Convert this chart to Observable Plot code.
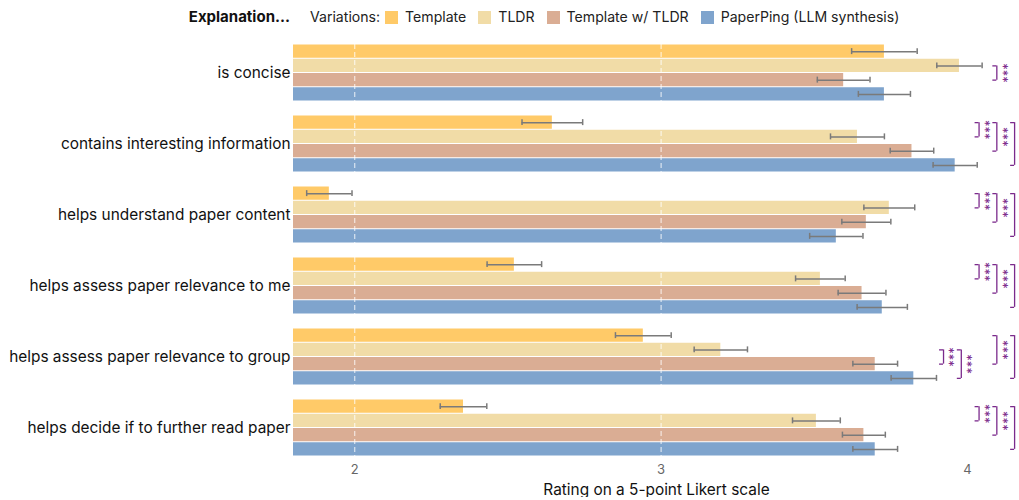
<!DOCTYPE html>
<html>
<head>
<meta charset="utf-8">
<script src="https://cdn.jsdelivr.net/npm/d3@7"></script>
<script src="https://cdn.jsdelivr.net/npm/@observablehq/plot@0.6"></script>
<style>
  html, body { margin: 0; padding: 0; background: #fff; overflow: hidden; }
  body { width: 1019px; height: 500px; font-family: Inter, "Noto Sans", sans-serif; color: #111; }
  #header { position: relative; height: 40px; }
  #title { position: absolute; left: 0; width: 290px; top: 8px; text-align: right; font-weight: 700; font-size: 15px; line-height: 18px; color: #111; }
  #legend { position: absolute; left: 310px; top: 8px; display: flex; align-items: center; font-size: 14.1px; line-height: 18px; color: #222; }
  #legend .lab { margin-right: 5px; }
  #legend .item { display: flex; align-items: center; margin-right: 12px; }
  #legend .sw { width: 13px; height: 13px; margin-right: 7px; }
  #chart { line-height: 0; }
  #chart svg { display: block; }
  #chart svg text { font-family: Inter, "Noto Sans", sans-serif; }
  g[aria-label="x-axis tick label"] text, g[aria-label="x-axis"] .tick text { fill: #666; font-size: 13px; }
</style>
</head>
<body>
<div id="header"><div id="title"></div><div id="legend"></div></div>
<div id="chart"></div>
<script>
// ---- data ----
const categories = [
  "is concise",
  "contains interesting information",
  "helps understand paper content",
  "helps assess paper relevance to me",
  "helps assess paper relevance to group",
  "helps decide if to further read paper"
];
const variations = ["Template", "TLDR", "Template w/ TLDR", "PaperPing (LLM synthesis)"];
const colors = ["#ffca68", "#f1dca7", "#daad94", "#7fa4cd"];

const meanTemplate     = [3.729, 2.645, 1.917, 2.521, 2.942, 2.355];
const meanTLDR         = [3.974, 3.641, 3.745, 3.520, 3.195, 3.507];
const meanTemplateTLDR = [3.596, 3.819, 3.670, 3.656, 3.699, 3.662];
const meanPaperPing    = [3.729, 3.960, 3.572, 3.722, 3.825, 3.699];

const ciTemplate     = [0.107, 0.099, 0.074, 0.089, 0.091, 0.076];
const ciTLDR         = [0.074, 0.088, 0.083, 0.081, 0.087, 0.078];
const ciTemplateTLDR = [0.086, 0.071, 0.080, 0.078, 0.073, 0.070];
const ciPaperPing    = [0.085, 0.072, 0.087, 0.082, 0.074, 0.073];

// significance comparisons
const sigCategory = [
  "is concise",
  "contains interesting information", "contains interesting information", "contains interesting information",
  "helps understand paper content", "helps understand paper content", "helps understand paper content",
  "helps assess paper relevance to me", "helps assess paper relevance to me", "helps assess paper relevance to me",
  "helps assess paper relevance to group", "helps assess paper relevance to group", "helps assess paper relevance to group", "helps assess paper relevance to group",
  "helps decide if to further read paper", "helps decide if to further read paper", "helps decide if to further read paper"
];
const sigFrom = [
  "TLDR",
  "Template", "Template", "Template",
  "Template", "Template", "Template",
  "Template", "Template", "Template",
  "TLDR", "TLDR", "Template", "Template",
  "Template", "Template", "Template"
];
const sigTo = [
  "Template w/ TLDR",
  "TLDR", "Template w/ TLDR", "PaperPing (LLM synthesis)",
  "TLDR", "Template w/ TLDR", "PaperPing (LLM synthesis)",
  "TLDR", "Template w/ TLDR", "PaperPing (LLM synthesis)",
  "Template w/ TLDR", "PaperPing (LLM synthesis)", "Template w/ TLDR", "PaperPing (LLM synthesis)",
  "TLDR", "Template w/ TLDR", "PaperPing (LLM synthesis)"
];
const sigLevel = [1, 0, 1, 2, 0, 1, 2, 0, 1, 2, -2, -1, 1, 2, 0, 1, 2];
const sigLabel = sigLevel.map(() => "***");

const xTicks = [2, 3, 4];
const xLabel = "Rating on a 5-point Likert scale";
const titleText = "Explanation...";
const legendLabel = "Variations:";

// ---- layout constants ----
const xDomain = [1.8, 4.17];
const bracketBase = 4.038, bracketStep = 0.058, bracketTick = 0.013;
const purple = "#7b2a8c";

// ---- build tables ----
const meanSeries = [meanTemplate, meanTLDR, meanTemplateTLDR, meanPaperPing];
const ciSeries = [ciTemplate, ciTLDR, ciTemplateTLDR, ciPaperPing];
const rows = [];
categories.forEach((cat, ci) => variations.forEach((v, j) => {
  const m = meanSeries[j][ci], c = ciSeries[j][ci];
  rows.push({cat, variation: v, j, mean: m, lo: m - c, hi: m + c});
}));
const sigs = sigCategory.map((cat, i) => ({
  cat,
  a: variations.indexOf(sigFrom[i]),
  b: variations.indexOf(sigTo[i]),
  pos: bracketBase + sigLevel[i] * bracketStep,
  label: sigLabel[i]
}));

// ---- header ----
document.getElementById("title").textContent = titleText;
const legend = document.getElementById("legend");
const lab = document.createElement("span"); lab.className = "lab"; lab.textContent = legendLabel; legend.appendChild(lab);
variations.forEach((v, i) => {
  const it = document.createElement("span"); it.className = "item";
  const sw = document.createElement("span"); sw.className = "sw"; sw.style.background = colors[i];
  const tx = document.createElement("span"); tx.textContent = v;
  it.appendChild(sw); it.appendChild(tx); legend.appendChild(it);
});

// ---- chart ----
const chart = Plot.plot({
  width: 1019,
  height: 457,
  marginTop: 4,
  marginBottom: 41,
  marginLeft: 293,
  marginRight: 0,
  style: {fontFamily: "Inter, 'Noto Sans', sans-serif", fontSize: "15.4px", color: "#111", background: "white", overflow: "hidden"},
  x: {domain: xDomain, ticks: xTicks, tickFormat: d => String(d), tickSize: 0, tickPadding: 8, label: xLabel, labelAnchor: "center", labelArrow: "none"},
  y: {domain: [variations.length, 0], axis: null},
  fy: {domain: categories, axis: "left", label: null, tickSize: 0, tickPadding: 3, paddingInner: 0.2, paddingOuter: 0},
  color: {domain: variations, range: colors},
  marks: [
    Plot.rect(rows, {fy: "cat", x1: () => xDomain[0], x2: "mean", y1: "j", y2: d => d.j + 1, fill: "variation", insetTop: 0.5, insetBottom: 0.5}),
    Plot.ruleX(xTicks, {stroke: "white", strokeOpacity: 0.85, strokeDasharray: "5,3"}),
    Plot.ruleY(rows, {fy: "cat", y: d => d.j + 0.5, x1: "lo", x2: "hi", stroke: "#7a7a7a", strokeWidth: 1.5}),
    Plot.ruleX(rows, {fy: "cat", x: "lo", y1: d => d.j + 0.29, y2: d => d.j + 0.71, stroke: "#7a7a7a", strokeWidth: 1.5}),
    Plot.ruleX(rows, {fy: "cat", x: "hi", y1: d => d.j + 0.29, y2: d => d.j + 0.71, stroke: "#7a7a7a", strokeWidth: 1.5}),
    Plot.ruleX(sigs, {fy: "cat", x: "pos", y1: d => d.a + 0.5, y2: d => d.b + 0.5, stroke: purple, strokeWidth: 1.3}),
    Plot.ruleY(sigs, {fy: "cat", y: d => d.a + 0.5, x1: d => d.pos - bracketTick, x2: "pos", stroke: purple, strokeWidth: 1.3}),
    Plot.ruleY(sigs, {fy: "cat", y: d => d.b + 0.5, x1: d => d.pos - bracketTick, x2: "pos", stroke: purple, strokeWidth: 1.3}),
    Plot.text(sigs, {fy: "cat", x: "pos", y: d => (d.a + d.b) / 2 + 0.5, text: "label", rotate: 90, dx: 5, fill: purple, fontSize: 13})
  ]
});
document.getElementById("chart").appendChild(chart);
</script>
</body>
</html>
